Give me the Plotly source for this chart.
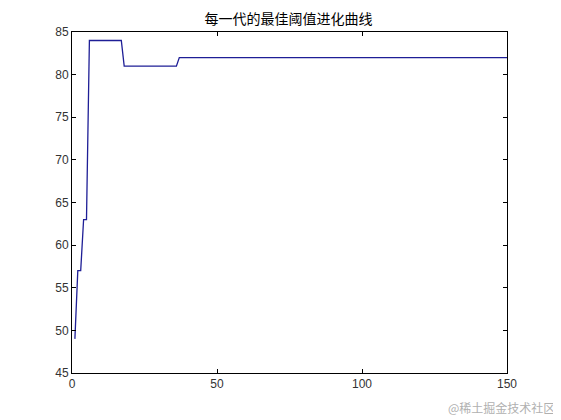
import plotly.graph_objects as go

# best threshold per generation (only the points where the value changes)
generation = [1, 2, 3, 4, 5, 6, 17, 18, 36, 37, 150]
best_threshold = [49, 57, 57, 63, 63, 84, 84, 81, 81, 82, 82]

x_ticks = [0, 50, 100, 150]
y_ticks = [45, 50, 55, 60, 65, 70, 75, 80, 85]

fig = go.Figure()
fig.add_trace(
    go.Scatter(
        x=generation,
        y=best_threshold,
        mode="lines",
        line=dict(color="#1e1e96", width=1.3),
        showlegend=False,
    )
)

axis_style = dict(
    showgrid=False,
    zeroline=False,
    showline=True,
    linecolor="black",
    linewidth=1,
    mirror="ticks",
    ticks="inside",
    ticklen=4,
    tickcolor="black",
    tickfont=dict(family="Liberation Sans, Arial", size=12, color="#333333"),
)

fig.update_xaxes(range=[0, 150], tickvals=x_ticks, **axis_style)
fig.update_yaxes(range=[45, 85], tickvals=y_ticks, **axis_style)

fig.update_layout(
    width=561,
    height=420,
    margin=dict(l=64, r=62, t=24, b=55),
    plot_bgcolor="white",
    paper_bgcolor="white",
    title=dict(
        text="每一代的最佳阈值进化曲线",
        x=0.5,
        xanchor="center",
        y=0.973,
        yanchor="middle",
        font=dict(family="Noto Sans CJK SC", size=14, color="black"),
    ),
    annotations=[
        dict(
            text="@稀土掘金技术社区",
            xref="paper",
            yref="paper",
            x=1.115,
            y=-0.10,
            xanchor="right",
            yanchor="middle",
            showarrow=False,
            font=dict(family="Noto Sans CJK SC", size=12, color="#b0b0b0"),
        )
    ],
)

fig.write_html("out.html")
